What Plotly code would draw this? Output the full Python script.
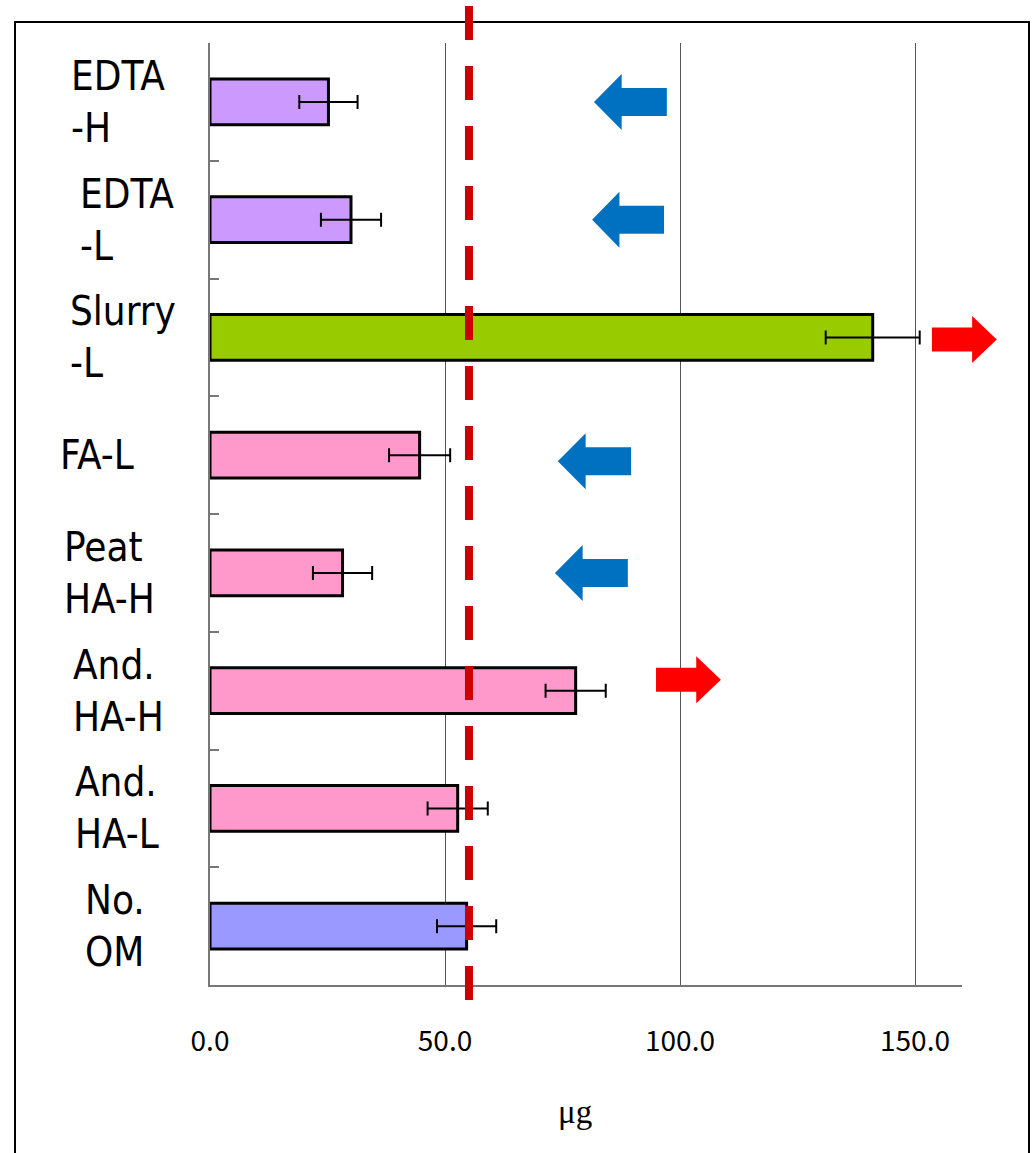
import plotly.graph_objects as go

# Treatments, listed from top to bottom of the chart
CATEGORIES = ["EDTA-H", "EDTA-L", "Slurry-L", "FA-L", "Peat HA-H",
              "And. HA-H", "And. HA-L", "No. OM"]
LABELS = ["EDTA<br>-H", "EDTA<br>-L", "Slurry<br>-L", "FA-L",
          "Peat<br>HA-H", "And.<br>HA-H", "And.<br>HA-L", "No.<br>OM"]
MEANS = [25.2, 30.0, 141.0, 44.6, 28.2, 77.8, 52.7, 54.6]   # µg
ERRORS = [6.2, 6.4, 10.0, 6.5, 6.3, 6.4, 6.4, 6.3]
CONTROL_LEVEL = 55.1  # level of the untreated control (dashed line)

X_TICKS = [0, 50, 100, 150]
X_TICK_TEXT = ["0.0", "50.0", "100.0", "150.0"]
X_MAX = 160

# Arrows: (category, tail value, tip value, kind)
ARROWS = [
    ("EDTA-H", 97.2, 81.7, "down"),
    ("EDTA-L", 96.6, 81.3, "down"),
    ("Slurry-L", 153.6, 167.4, "up"),
    ("FA-L", 89.6, 74.0, "down"),
    ("Peat HA-H", 88.9, 73.4, "down"),
    ("And. HA-H", 94.9, 108.7, "up"),
]

# ---- styling ----
BAR_COLORS = ["#CC99FF", "#CC99FF", "#99CC00", "#FF99CC", "#FF99CC",
              "#FF99CC", "#FF99CC", "#9999FF"]
LABEL_LEFT_PX = [69, 78, 68, 58, 62, 71, 73, 83]  # left edge of each label
ARROW_SHIFT_PX = [0, 0, -2, -6, 0, 11]           # vertical nudge of each arrow
ARROW_STYLE = {
    "down": dict(color="#0070C0", half_head=28, half_shaft=14),
    "up": dict(color="#FF0000", half_head=23.5, half_shaft=12),
}
W, H = 1032, 1153
M_L, M_R, M_T, M_B = 210, 70, 43, 168
PLOT_W = W - M_L - M_R
PLOT_H = H - M_T - M_B
LABEL_FONT = dict(family="Liberation Sans Narrow, DejaVu Sans Condensed, Liberation Sans",
                  size=40, color="black")


def px_to_paper_x(px):
    return (px - M_L) / PLOT_W


def px_to_paper_y(py):
    return (M_T + PLOT_H - py) / PLOT_H


fig = go.Figure()
fig.add_trace(go.Bar(
    y=CATEGORIES, x=MEANS, orientation="h", width=0.39,
    marker=dict(color=BAR_COLORS, line=dict(color="black", width=3)),
    error_x=dict(type="data", array=ERRORS, visible=True,
                 color="black", thickness=2, width=7),
    showlegend=False,
))

shapes = []
# outer frame around the whole chart
shapes.append(dict(type="rect", xref="paper", yref="paper",
                   x0=px_to_paper_x(15), x1=px_to_paper_x(1029),
                   y0=px_to_paper_y(1170), y1=px_to_paper_y(22),
                   line=dict(color="black", width=2), layer="below"))
# dashed control level
shapes.append(dict(type="line", xref="x", yref="paper",
                   x0=CONTROL_LEVEL, x1=CONTROL_LEVEL,
                   y0=px_to_paper_y(6), y1=px_to_paper_y(1000),
                   line=dict(color="#CC0000", width=8, dash="34px,26px"),
                   layer="above"))
# block arrows
for k, (cat, tail, tip, kind) in enumerate(ARROWS):
    st = ARROW_STYLE[kind]
    idx = CATEGORIES.index(cat)
    xt, xp = tail / X_MAX, tip / X_MAX
    xb = xp + (xt - xp) * 0.38
    hh, hs, dy = st["half_head"], st["half_shaft"], ARROW_SHIFT_PX[k]
    path = (f"M{xt},{dy + hs} L{xb},{dy + hs} L{xb},{dy + hh} L{xp},{dy} "
            f"L{xb},{dy - hh} L{xb},{dy - hs} L{xt},{dy - hs} Z")
    shapes.append(dict(type="path", xref="paper", yref="y",
                       ysizemode="pixel", yanchor=idx, path=path,
                       fillcolor=st["color"], line=dict(width=0),
                       layer="above"))

annotations = []
for i, text in enumerate(LABELS):
    annotations.append(dict(xref="paper", yref="y",
                            x=px_to_paper_x(LABEL_LEFT_PX[i]), y=i,
                            text=text, xanchor="left", yanchor="middle",
                            align="left", showarrow=False, font=LABEL_FONT))
# axis title
annotations.append(dict(xref="paper", yref="paper",
                        x=px_to_paper_x(575), y=px_to_paper_y(1112),
                        text="μg", showarrow=False,
                        xanchor="center", yanchor="middle",
                        font=dict(family="Liberation Serif", size=33,
                                  color="black")))

fig.update_layout(
    width=W, height=H,
    margin=dict(l=M_L, r=M_R, t=M_T, b=M_B, pad=0),
    paper_bgcolor="white", plot_bgcolor="white",
    shapes=shapes, annotations=annotations,
    xaxis=dict(range=[0, X_MAX], tickvals=X_TICKS, ticktext=X_TICK_TEXT,
               showgrid=True, gridcolor="#555555", gridwidth=1,
               zeroline=False, showline=True, linecolor="#777777",
               linewidth=2, ticks="", ticklabelstandoff=30,
               tickfont=dict(family="Noto Sans CJK JP", size=28,
                             color="black")),
    yaxis=dict(categoryorder="array", categoryarray=CATEGORIES,
               range=[7.5, -0.5], showticklabels=False,
               ticks="inside", tickson="boundaries", ticklen=9,
               tickcolor="#777777", tickwidth=2,
               showgrid=False, zeroline=False,
               showline=True, linecolor="#777777", linewidth=2),
)

fig.write_html("out.html")
